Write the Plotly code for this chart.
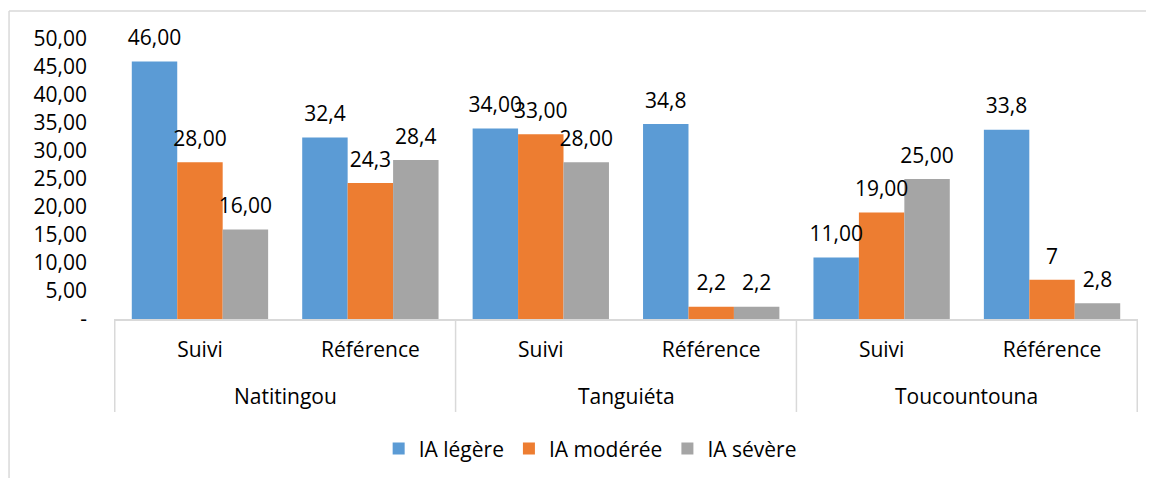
import plotly.graph_objects as go

# categories
communes = ["Natitingou", "Natitingou", "Tanguiéta", "Tanguiéta", "Toucountouna", "Toucountouna"]
periodes = ["Suivi", "Référence", "Suivi", "Référence", "Suivi", "Référence"]

# series values
ia_legere = [46.0, 32.4, 34.0, 34.8, 11.0, 33.8]
ia_moderee = [28.0, 24.3, 33.0, 2.2, 19.0, 7.0]
ia_severe = [16.0, 28.4, 28.0, 2.2, 25.0, 2.8]

# data labels as printed on the chart
lbl_legere = ["46,00", "32,4", "34,00", "34,8", "11,00", "33,8"]
lbl_moderee = ["28,00", "24,3", "33,00", "2,2", "19,00", "7"]
lbl_severe = ["16,00", "28,4", "28,00", "2,2", "25,00", "2,8"]

# y tick labels
y_ticks = [0, 5, 10, 15, 20, 25, 30, 35, 40, 45, 50]
y_ticktext = ["-", "5,00", "10,00", "15,00", "20,00", "25,00", "30,00", "35,00", "40,00", "45,00", "50,00"]

FONT = "Open Sans"
FS = 21
GRID = "#D9D9D9"

series = [
    ("IA légère", ia_legere, lbl_legere, "#5B9BD5"),
    ("IA modérée", ia_moderee, lbl_moderee, "#ED7D31"),
    ("IA sévère", ia_severe, lbl_severe, "#A5A5A5"),
]

# one category per (commune, période) pair, labelled with the période
keys = [c + "|" + p for c, p in zip(communes, periodes)]
groups = list(dict.fromkeys(communes))
per_group = len(keys) // len(groups)

fig = go.Figure()
for name, vals, labels, color in series:
    fig.add_trace(go.Bar(
        name=name,
        x=keys,
        y=vals,
        marker=dict(color=color, line=dict(width=0)),
    ))
# data labels: invisible markers with text above, grouped like the bars
for name, vals, labels, color in series:
    fig.add_trace(go.Scatter(
        x=keys,
        y=vals,
        mode="markers+text",
        text=labels,
        textposition="top center",
        textfont=dict(family=FONT, size=FS, color="black"),
        marker=dict(size=16, color="rgba(0,0,0,0)"),
        cliponaxis=False,
        showlegend=False,
        hoverinfo="skip",
    ))

# commune labels and group dividers under the axis
annotations = []
shapes = []
for i, g in enumerate(groups):
    annotations.append(dict(
        x=i * per_group + (per_group - 1) / 2, xref="x",
        y=-0.275, yref="paper", yanchor="middle",
        text=g, showarrow=False,
        font=dict(family=FONT, size=FS, color="black"),
    ))
for i in range(len(groups) + 1):
    shapes.append(dict(
        type="line", xref="x", yref="paper",
        x0=i * per_group - 0.5, x1=i * per_group - 0.5, y0=0, y1=-0.332,
        line=dict(color=GRID, width=1.5),
    ))
# outer chart border (left and top edges visible in the crop)
shapes.append(dict(type="line", xref="paper", yref="paper",
                   x0=-0.1025, x1=1.1, y0=1.1, y1=1.1,
                   line=dict(color=GRID, width=1.5)))
shapes.append(dict(type="line", xref="paper", yref="paper",
                   x0=-0.1025, x1=-0.1025, y0=1.1, y1=-0.6,
                   line=dict(color=GRID, width=1.5)))

fig.update_layout(
    width=1154,
    height=478,
    barmode="group",
    bargap=0.2,
    bargroupgap=0,
    scattermode="group",
    scattergap=0.2,
    plot_bgcolor="white",
    paper_bgcolor="white",
    font=dict(family=FONT, size=FS, color="black"),
    margin=dict(l=106, r=24, t=31, b=167, autoexpand=False),
    showlegend=True,
    legend=dict(
        orientation="h",
        x=0.465, xanchor="center",
        y=-0.464, yanchor="middle",
        font=dict(family=FONT, size=FS, color="black"),
    ),
    annotations=annotations,
    shapes=shapes,
)

fig.update_yaxes(
    range=[0, 50],
    tickvals=y_ticks,
    ticktext=y_ticktext,
    showgrid=False,
    zeroline=False,
    showline=False,
    ticks="",
    ticklabelstandoff=26,
    automargin=False,
    tickfont=dict(family=FONT, size=FS, color="black"),
)

fig.update_xaxes(
    type="category",
    tickvals=keys,
    ticktext=periodes,
    showline=True,
    linecolor=GRID,
    linewidth=1.5,
    showgrid=False,
    ticks="outside",
    ticklen=11,
    tickcolor="rgba(0,0,0,0)",
    automargin=False,
    tickfont=dict(family=FONT, size=FS, color="black"),
)

fig.write_html("out.html")
